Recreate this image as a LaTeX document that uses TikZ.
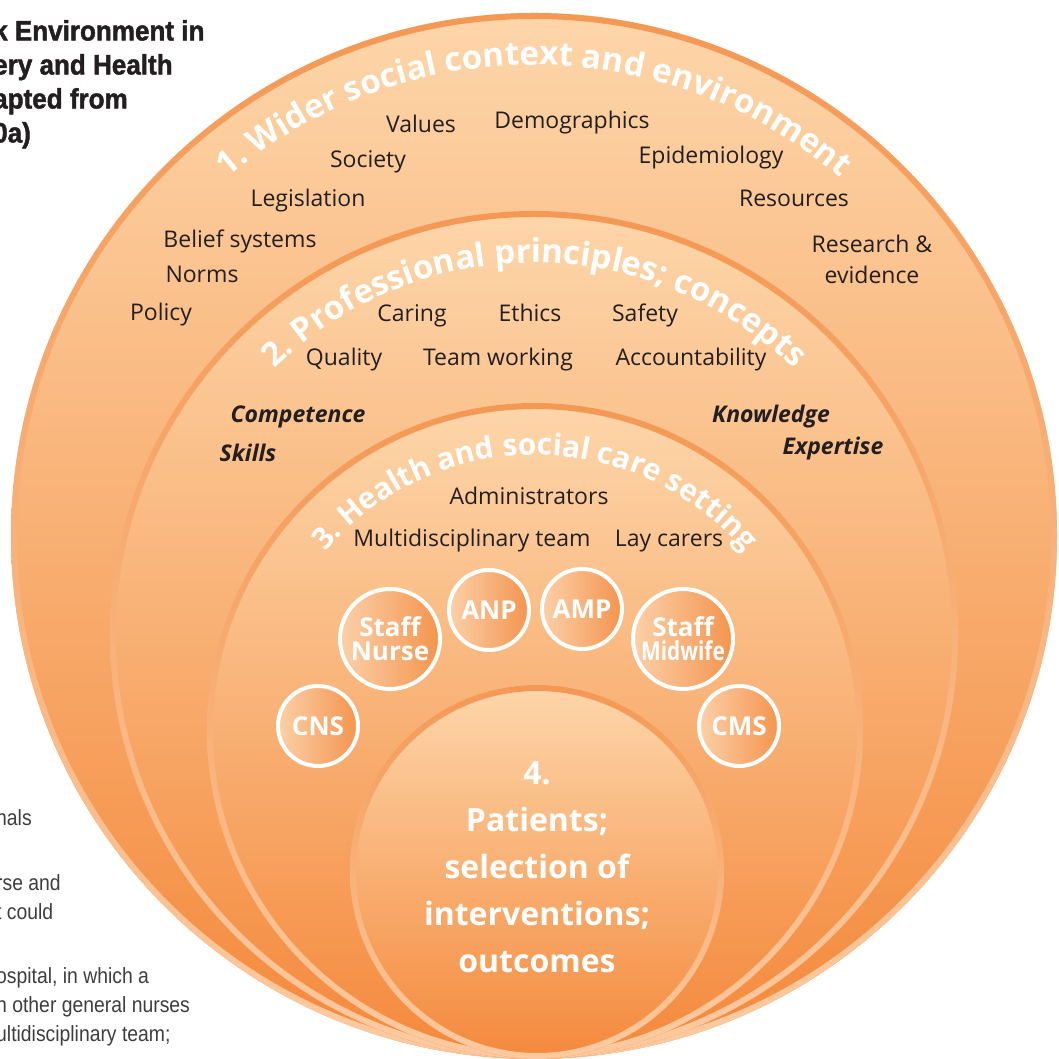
\documentclass[tikz,border=0pt]{standalone}
\usepackage{fontspec}
\setmainfont{Open Sans}
\newfontfamily\headfont[FakeStretch=0.93, BoldFeatures={FakeBold=1.6}]{Liberation Sans}
\newfontfamily\bodyfont[FakeStretch=0.88]{Liberation Sans}
\newfontfamily\narrowfont[FakeStretch=0.8]{Open Sans}
\usetikzlibrary{decorations.text}

\definecolor{peach}{RGB}{253,214,170}
\definecolor{deeporange}{RGB}{244,137,60}
\definecolor{ringtop}{RGB}{244,152,84}
\definecolor{ringbot}{RGB}{252,202,160}
\definecolor{badgeL}{RGB}{252,208,168}
\definecolor{badgeR}{RGB}{244,148,78}
\definecolor{ink}{RGB}{35,31,32}
\definecolor{greytext}{RGB}{62,62,62}

\tikzstyle{discfill}=[top color=peach, bottom color=deeporange]
\tikzstyle{discring}=[top color=ringtop, bottom color=ringbot, even odd rule]
\tikzstyle{item}=[text=ink, font=\fontsize{23}{31}\selectfont, anchor=base,
  inner sep=0pt]
\tikzstyle{skill}=[item, font=\fontsize{23}{31}\selectfont\bfseries\itshape]
\tikzstyle{badge}=[circle, draw=white, line width=4pt, left color=badgeL,
  right color=badgeR, text=white, align=center, inner sep=0pt,
  font=\fontsize{26}{24}\selectfont\bfseries]
\tikzstyle{core}=[text=white, font=\fontsize{32}{47}\selectfont\bfseries,
  align=center, anchor=north, inner sep=0pt]
\tikzstyle{note}=[text=greytext, font=\bodyfont\fontsize{22}{29}\selectfont,
  align=left, anchor=north west, inner sep=0pt]

% one shaded disc with its ring: centre, radius
\newcommand{\disc}[2]{%
  \path[discfill] (#1) circle[radius=#2];
  \path[discring] (#1) circle[radius=#2] (#1) circle[radius=#2-6pt];}
% white heading bent along the top of a disc: centre, radius, size, text
\newcommand{\arctitle}[4]{%
  \path[decorate, decoration={text along path, text align=center,
    text color=white, text={|\fontsize{#3}{#3}\selectfont\bfseries|#4}}]
    (#1) ++(180:#2) arc[start angle=180, end angle=0, radius=#2];}

\begin{document}
\begin{tikzpicture}[x=1pt,y=1pt]
  \useasboundingbox (0,0) rectangle (1059,1059);
  \fill[white] (0,0) rectangle (1059,1059);

  % centres of the four layers, all touching at the bottom
  \coordinate (WIDER) at (534,523);
  \coordinate (PROF) at (534,424);
  \coordinate (SETTING) at (535,328);
  \coordinate (PATIENT) at (537,187);

  \disc{WIDER}{523pt}
  \disc{PROF}{424pt}
  \disc{SETTING}{328pt}
  \disc{PATIENT}{187pt}

  \arctitle{WIDER}{471pt}{33}{1. Wider social context and environment}
  \arctitle{PROF}{372pt}{33}{2. Professional principles; concepts}
  \arctitle{SETTING}{276pt}{30}{3. Health and social care setting}

  % layer 1
  \node[item] (values) at (421,926) {Values};
  \node[item] (demog) at (572,930) {Demographics};
  \node[item] (society) at (368,891) {Society};
  \node[item] (epidem) at (711,895) {Epidemiology};
  \node[item] (legis) at (308,852) {Legislation};
  \node[item] (resources) at (794,852) {Resources};
  \node[item] (belief) at (240,811) {Belief systems};
  \node[item, anchor=north, align=center] (research) at (872,824)
    {Research \&\\evidence};
  \node[item] (norms) at (202,776) {Norms};
  \node[item] (policy) at (161,738) {Policy};

  % layer 2
  \node[item] (caring) at (412,737) {Caring};
  \node[item] (ethics) at (530,737) {Ethics};
  \node[item] (safety) at (645,737) {Safety};
  \node[item] (quality) at (344,693) {Quality};
  \node[item] (team) at (498,693) {Team working};
  \node[item] (account) at (691,693) {Accountability};
  \node[skill] (compet) at (298,636) {Competence};
  \node[skill] (knowl) at (771,636) {Knowledge};
  \node[skill] (skills) at (248,597) {Skills};
  \node[skill] (expert) at (833,604) {Expertise};

  % layer 3
  \node[item] (admin) at (529,554) {Administrators};
  \node[item] (mdt) at (472,512) {Multidisciplinary team};
  \node[item] (lay) at (669,512) {Lay carers};

  \node[badge, minimum size=100pt] (SN) at (390,420) {Staff\\Nurse};
  \node[badge, minimum size=80pt] (ANP) at (489,449) {ANP};
  \node[badge, minimum size=80pt] (AMP) at (582,450) {AMP};
  \node[badge, minimum size=100pt] (SM) at (683,420)
    {Staff\\{\narrowfont\bfseries Midwife}};
  \node[badge, minimum size=80pt] (CNS) at (318,333) {CNS};
  \node[badge, minimum size=80pt] (CMS) at (739,333) {CMS};

  % layer 4
  \node[core] (patients) at (537,298)
    {4.\\Patients;\\selection of\\interventions;\\outcomes};

  % page text around the figure
  \node[text=ink, font=\headfont\bfseries\fontsize{28}{34}\selectfont,
    align=left, anchor=north west, inner sep=0pt] (caption) at (-7,1039)
    {k Environment in\\ery and Health\\apted from\\0a)};
  \node[note] (para1) at (-4,250) {nals};
  \node[note] (para2) at (-4,185) {rse and\\t could};
  \node[note] (para3) at (-4,92)
    {ospital, in which a\\n other general nurses\\ultidisciplinary team;};
\end{tikzpicture}
\end{document}
